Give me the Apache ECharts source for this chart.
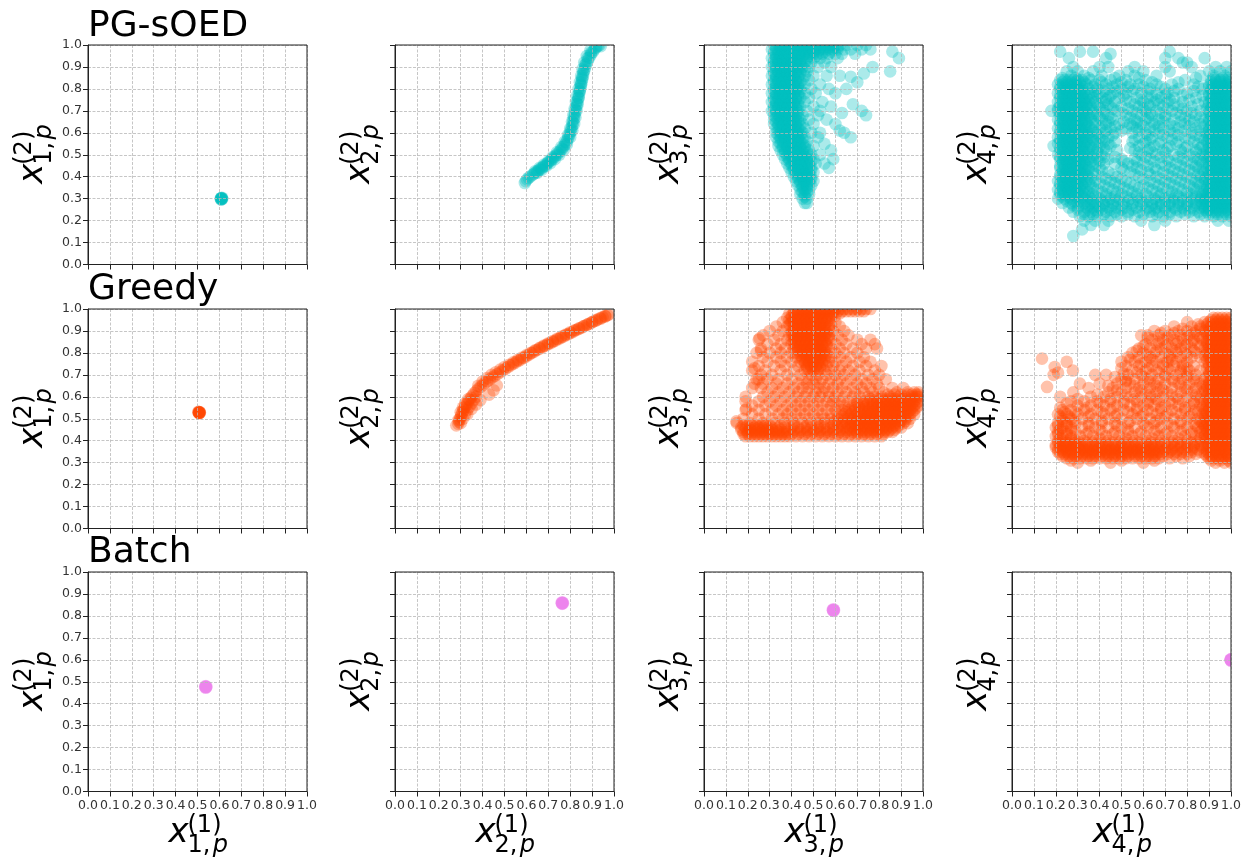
<!DOCTYPE html>
<html><head><meta charset="utf-8">
<script src="https://cdn.jsdelivr.net/npm/echarts@6/dist/echarts.min.js"></script>
<style>html,body{margin:0;padding:0;background:#fff}#c{width:1248px;height:861px}</style>
</head><body><div id="c"></div>
<script>
// ---------------- labels ----------------
const methods = ['PG-sOED', 'Greedy', 'Batch'];
const methodColors = ['rgba(0,191,191,0.33)', 'rgba(255,69,0,0.33)', 'rgba(238,130,238,0.33)'];
const stageIndex = ['1', '2', '3', '4'];
const tickLabels = ['0.0','0.1','0.2','0.3','0.4','0.5','0.6','0.7','0.8','0.9','1.0'];

// ---------------- data: [x(1), x(2)] ----------------
// PG-sOED
const pgP1 = [[0.607,0.298],[0.611,0.301],[0.609,0.303],[0.613,0.299],[0.608,0.296],[0.612,0.304],[0.610,0.300],[0.606,0.301],[0.610,0.297],[0.608,0.302]];
const pgP2 = [[0.593,0.371],[0.597,0.380],[0.603,0.388],[0.610,0.395],[0.618,0.401],[0.626,0.407],[0.634,0.413],[0.642,0.419],[0.650,0.425],[0.658,0.431],[0.666,0.437],[0.674,0.443],[0.682,0.449],[0.690,0.456],[0.698,0.463],[0.706,0.470],[0.714,0.477],[0.722,0.484],[0.730,0.492],[0.738,0.500],[0.746,0.508],[0.754,0.517],[0.762,0.526],[0.769,0.536],[0.776,0.546],[0.782,0.557],[0.788,0.569],[0.793,0.581],[0.798,0.594],[0.802,0.607],[0.806,0.620],[0.810,0.634],[0.813,0.648],[0.816,0.662],[0.819,0.676],[0.822,0.690],[0.825,0.704],[0.828,0.718],[0.831,0.732],[0.834,0.746],[0.837,0.760],[0.840,0.774],[0.843,0.788],[0.846,0.802],[0.849,0.816],[0.852,0.830],[0.855,0.844],[0.858,0.858],[0.861,0.872],[0.865,0.886],[0.869,0.900],[0.874,0.914],[0.880,0.928],[0.887,0.942],[0.894,0.955],[0.902,0.967],[0.910,0.978],[0.918,0.988],[0.926,0.996],[0.934,1.0],
  [0.650,0.418],[0.670,0.432],[0.690,0.448],[0.710,0.462],[0.730,0.480],[0.750,0.500],[0.770,0.522],[0.785,0.548],[0.800,0.580],[0.810,0.610],[0.818,0.640],[0.824,0.670],[0.829,0.700],[0.834,0.730],[0.839,0.760],[0.844,0.790],[0.849,0.820],[0.854,0.850],[0.860,0.880],[0.868,0.910],[0.880,0.940],[0.895,0.965],[0.915,0.990],[0.940,0.995],
  [0.640,0.425],[0.660,0.440],[0.680,0.455],[0.700,0.470],[0.720,0.490],[0.740,0.512],[0.760,0.535],[0.775,0.560],[0.790,0.590],[0.800,0.620],[0.808,0.650],[0.814,0.680],[0.820,0.710],[0.826,0.740],[0.832,0.770],[0.838,0.800],[0.844,0.830],[0.850,0.860],[0.856,0.890],[0.864,0.920],[0.876,0.950],[0.892,0.975]];
const pgRows3 = [
 [1.00,[0.32,0.34,0.36,0.38,0.40,0.42,0.44,0.46,0.48,0.50,0.52,0.54,0.56,0.58,0.60,0.62,0.65,0.70,0.74]],
 [0.98,[0.31,0.33,0.35,0.37,0.39,0.41,0.43,0.45,0.47,0.49,0.51,0.53,0.55,0.57,0.59,0.61,0.64,0.67,0.72,0.76]],
 [0.96,[0.32,0.34,0.36,0.38,0.40,0.42,0.44,0.46,0.48,0.50,0.52,0.54,0.57,0.60,0.63,0.69]],
 [0.94,[0.31,0.33,0.35,0.37,0.39,0.41,0.43,0.45,0.47,0.50,0.53,0.56,0.61]],
 [0.92,[0.32,0.34,0.36,0.38,0.40,0.42,0.44,0.46,0.49,0.55]],
 [0.90,[0.31,0.33,0.35,0.37,0.39,0.41,0.43,0.45,0.48,0.52,0.58]],
 [0.88,[0.32,0.34,0.36,0.38,0.40,0.42,0.44,0.47]],
 [0.86,[0.31,0.33,0.35,0.37,0.39,0.41,0.43,0.46,0.50,0.56]],
 [0.84,[0.32,0.34,0.36,0.38,0.40,0.42,0.45,0.48]],
 [0.82,[0.31,0.33,0.35,0.37,0.39,0.41,0.43,0.46,0.53]],
 [0.80,[0.32,0.34,0.36,0.38,0.40,0.42,0.44,0.49]],
 [0.78,[0.31,0.33,0.35,0.37,0.39,0.41,0.43,0.46,0.51]],
 [0.76,[0.32,0.34,0.36,0.38,0.40,0.42,0.44,0.48]],
 [0.74,[0.31,0.33,0.35,0.37,0.39,0.41,0.43,0.46,0.54]],
 [0.72,[0.32,0.34,0.36,0.38,0.40,0.42,0.44,0.50]],
 [0.70,[0.31,0.33,0.35,0.37,0.39,0.41,0.43,0.47]],
 [0.68,[0.32,0.34,0.36,0.38,0.40,0.42,0.45,0.52]],
 [0.66,[0.32,0.34,0.36,0.38,0.40,0.42,0.44,0.48]],
 [0.64,[0.32,0.34,0.36,0.38,0.40,0.42,0.45,0.50]],
 [0.62,[0.33,0.35,0.37,0.39,0.41,0.43,0.46]],
 [0.60,[0.33,0.35,0.37,0.39,0.41,0.43,0.45,0.49]],
 [0.58,[0.33,0.35,0.37,0.39,0.41,0.43,0.46,0.52]],
 [0.56,[0.34,0.36,0.38,0.40,0.42,0.44,0.47]],
 [0.54,[0.34,0.36,0.38,0.40,0.42,0.44,0.46,0.50]],
 [0.52,[0.35,0.37,0.39,0.41,0.43,0.45,0.48]],
 [0.50,[0.36,0.38,0.40,0.42,0.44,0.46,0.49,0.53]],
 [0.48,[0.37,0.39,0.41,0.43,0.45,0.47,0.50]],
 [0.46,[0.38,0.40,0.42,0.44,0.46,0.48,0.51]],
 [0.44,[0.39,0.41,0.43,0.45,0.47,0.49]],
 [0.42,[0.40,0.42,0.44,0.46,0.48,0.50]],
 [0.40,[0.41,0.43,0.45,0.47,0.49]],
 [0.38,[0.42,0.44,0.46,0.48,0.50]],
 [0.36,[0.43,0.45,0.47,0.49]],
 [0.34,[0.44,0.46,0.48]],
 [0.32,[0.44,0.46,0.48]],
 [0.30,[0.45,0.47]],
 [0.28,[0.46,0.47]]
];
const pgRows3b = [
 [0.99,[0.33,0.35,0.37,0.39,0.41,0.43,0.45,0.47,0.49,0.51,0.53,0.55,0.57,0.59,0.61]],
 [0.97,[0.32,0.34,0.36,0.38,0.40,0.42,0.44,0.46,0.48,0.50,0.52,0.55,0.58]],
 [0.95,[0.33,0.35,0.37,0.39,0.41,0.43,0.45,0.48,0.51]],
 [0.93,[0.32,0.34,0.36,0.38,0.40,0.42,0.44,0.47]],
 [0.91,[0.32,0.34,0.36,0.38,0.40,0.42,0.44]],
 [0.89,[0.33,0.35,0.37,0.39,0.41,0.43,0.46]],
 [0.87,[0.32,0.34,0.36,0.38,0.40,0.42,0.44]],
 [0.85,[0.33,0.35,0.37,0.39,0.41,0.43]],
 [0.83,[0.32,0.34,0.36,0.38,0.40,0.42,0.44]],
 [0.81,[0.33,0.35,0.37,0.39,0.41,0.43]],
 [0.79,[0.32,0.34,0.36,0.38,0.40,0.42,0.44]],
 [0.77,[0.33,0.35,0.37,0.39,0.41,0.43]],
 [0.75,[0.32,0.34,0.36,0.38,0.40,0.42]],
 [0.73,[0.33,0.35,0.37,0.39,0.41,0.43]],
 [0.71,[0.32,0.34,0.36,0.38,0.40,0.42]],
 [0.69,[0.33,0.35,0.37,0.39,0.41,0.43]],
 [0.67,[0.33,0.35,0.37,0.39,0.41,0.43]],
 [0.65,[0.33,0.35,0.37,0.39,0.41,0.43]],
 [0.63,[0.34,0.36,0.38,0.40,0.42,0.44]],
 [0.61,[0.34,0.36,0.38,0.40,0.42,0.44]],
 [0.59,[0.34,0.36,0.38,0.40,0.42,0.44]],
 [0.57,[0.35,0.37,0.39,0.41,0.43,0.45]],
 [0.55,[0.35,0.37,0.39,0.41,0.43,0.45]],
 [0.53,[0.36,0.38,0.40,0.42,0.44,0.46]],
 [0.51,[0.37,0.39,0.41,0.43,0.45,0.47]],
 [0.49,[0.38,0.40,0.42,0.44,0.46,0.48]],
 [0.47,[0.39,0.41,0.43,0.45,0.47,0.49]],
 [0.45,[0.40,0.42,0.44,0.46,0.48]],
 [0.43,[0.41,0.43,0.45,0.47,0.49]],
 [0.41,[0.42,0.44,0.46,0.48]],
 [0.39,[0.43,0.45,0.47,0.49]],
 [0.37,[0.44,0.46,0.48]],
 [0.35,[0.45,0.47]],
 [0.33,[0.45,0.47]],
 [0.31,[0.46]]
];
const pgOut3 = [[0.86,0.97],[0.89,0.94],[0.85,0.88],[0.77,0.90],[0.73,0.87],[0.67,0.855],[0.70,0.83],[0.65,0.80],[0.60,0.78],[0.68,0.73],[0.72,0.70],[0.74,0.68],[0.63,0.69],[0.58,0.72],[0.60,0.64],[0.67,0.58],[0.62,0.61],[0.64,0.60],[0.58,0.52],[0.59,0.48],[0.55,0.46],[0.57,0.44],[0.53,0.60],[0.56,0.66],[0.55,0.55],[0.57,0.80],[0.62,0.86],[0.53,0.70]];
const pgRows4 = [
 [0.97,[0.22,0.31,0.37,0.72]],
 [0.96,[0.45]],
 [0.94,[0.26,0.43,0.70,0.76,0.88]],
 [0.92,[0.78,0.80]],
 [0.90,[0.28,0.40,0.44,0.56,0.70,0.82,0.93,0.98]],
 [0.88,[0.25,0.30,0.37,0.53,0.60,0.72,0.90,0.95,1.0]],
 [0.86,[0.27,0.33,0.41,0.49,0.56,0.66,0.86,0.92,0.97]],
 [0.84,[0.22,0.24,0.26,0.28,0.30,0.32,0.36,0.40,0.45,0.52,0.61,0.79,0.91,0.93,0.95,0.97,0.99]],
 [0.82,[0.21,0.23,0.25,0.27,0.29,0.31,0.34,0.38,0.43,0.48,0.54,0.58,0.66,0.73,0.83,0.90,0.92,0.94,0.96,0.98,1.0]],
 [0.80,[0.22,0.24,0.26,0.28,0.30,0.32,0.35,0.39,0.44,0.50,0.56,0.63,0.70,0.76,0.87,0.91,0.93,0.95,0.97,0.99]],
 [0.78,[0.21,0.23,0.25,0.27,0.29,0.31,0.33,0.36,0.40,0.46,0.52,0.59,0.66,0.71,0.80,0.90,0.92,0.94,0.96,0.98,1.0]],
 [0.76,[0.22,0.24,0.26,0.28,0.30,0.32,0.34,0.37,0.41,0.44,0.49,0.57,0.62,0.68,0.74,0.84,0.91,0.93,0.95,0.97,0.99]],
 [0.74,[0.21,0.23,0.25,0.27,0.29,0.31,0.33,0.35,0.38,0.42,0.47,0.54,0.60,0.65,0.71,0.78,0.88,0.90,0.92,0.94,0.96,0.98,1.0]],
 [0.72,[0.22,0.24,0.26,0.28,0.30,0.32,0.34,0.36,0.40,0.45,0.50,0.58,0.63,0.69,0.76,0.82,0.91,0.93,0.95,0.97,0.99]],
 [0.70,[0.18,0.21,0.23,0.25,0.27,0.29,0.31,0.33,0.37,0.42,0.48,0.55,0.61,0.66,0.73,0.80,0.86,0.90,0.92,0.94,0.96,0.98,1.0]],
 [0.68,[0.22,0.24,0.26,0.28,0.30,0.32,0.35,0.39,0.44,0.52,0.59,0.64,0.70,0.77,0.84,0.91,0.93,0.95,0.97,0.99]],
 [0.66,[0.21,0.23,0.25,0.27,0.29,0.31,0.33,0.36,0.41,0.46,0.56,0.61,0.67,0.74,0.81,0.88,0.90,0.92,0.94,0.96,0.98,1.0]],
 [0.64,[0.22,0.24,0.26,0.28,0.30,0.32,0.34,0.38,0.43,0.49,0.54,0.59,0.65,0.72,0.79,0.86,0.91,0.93,0.95,0.97,0.99]],
 [0.62,[0.21,0.23,0.25,0.27,0.29,0.31,0.33,0.36,0.40,0.45,0.52,0.57,0.63,0.69,0.76,0.84,0.90,0.92,0.94,0.96,0.98,1.0]],
 [0.60,[0.22,0.24,0.26,0.28,0.30,0.32,0.35,0.38,0.42,0.47,0.55,0.61,0.67,0.74,0.82,0.89,0.91,0.93,0.95,0.97,0.99]],
 [0.58,[0.21,0.23,0.25,0.27,0.29,0.31,0.33,0.36,0.40,0.44,0.58,0.64,0.71,0.79,0.86,0.90,0.92,0.94,0.96,0.98,1.0]],
 [0.56,[0.22,0.24,0.26,0.28,0.30,0.32,0.34,0.38,0.42,0.47,0.55,0.61,0.68,0.76,0.83,0.89,0.91,0.93,0.95,0.97,0.99]],
 [0.54,[0.19,0.23,0.25,0.27,0.29,0.31,0.33,0.36,0.40,0.45,0.58,0.65,0.72,0.80,0.87,0.90,0.92,0.94,0.96,0.98,1.0]],
 [0.52,[0.22,0.24,0.26,0.28,0.30,0.32,0.35,0.39,0.43,0.48,0.56,0.62,0.69,0.77,0.84,0.89,0.91,0.93,0.95,0.97,0.99]],
 [0.50,[0.21,0.23,0.25,0.27,0.29,0.31,0.33,0.37,0.41,0.59,0.66,0.74,0.81,0.87,0.90,0.92,0.94,0.96,0.98,1.0]],
 [0.48,[0.22,0.24,0.26,0.28,0.30,0.32,0.35,0.39,0.44,0.50,0.56,0.63,0.71,0.78,0.85,0.89,0.91,0.93,0.95,0.97,0.99]],
 [0.46,[0.23,0.25,0.27,0.29,0.31,0.33,0.37,0.42,0.47,0.53,0.60,0.68,0.75,0.82,0.87,0.90,0.92,0.94,0.96,0.98,1.0]],
 [0.44,[0.22,0.24,0.26,0.28,0.30,0.32,0.35,0.40,0.50,0.57,0.65,0.72,0.79,0.85,0.89,0.91,0.93,0.95,0.97,0.99]],
 [0.42,[0.23,0.25,0.27,0.29,0.31,0.33,0.37,0.44,0.54,0.62,0.69,0.76,0.83,0.88,0.90,0.92,0.94,0.96,0.98,1.0]],
 [0.40,[0.22,0.24,0.26,0.28,0.30,0.32,0.35,0.41,0.48,0.58,0.66,0.73,0.80,0.86,0.89,0.91,0.93,0.95,0.97,0.99]],
 [0.38,[0.21,0.23,0.25,0.27,0.29,0.31,0.34,0.38,0.45,0.52,0.63,0.70,0.77,0.84,0.88,0.90,0.92,0.94,0.96,0.98,1.0]],
 [0.36,[0.22,0.24,0.26,0.28,0.30,0.32,0.36,0.42,0.49,0.56,0.60,0.67,0.74,0.81,0.86,0.89,0.91,0.93,0.95,0.97,0.99]],
 [0.34,[0.21,0.23,0.25,0.27,0.29,0.31,0.34,0.39,0.46,0.53,0.64,0.71,0.78,0.84,0.88,0.90,0.92,0.94,0.96,0.98,1.0]],
 [0.32,[0.22,0.24,0.26,0.28,0.30,0.33,0.37,0.43,0.50,0.57,0.61,0.68,0.75,0.82,0.87,0.89,0.91,0.93,0.95,0.97,0.99]],
 [0.30,[0.21,0.24,0.27,0.30,0.33,0.36,0.40,0.45,0.49,0.54,0.59,0.65,0.70,0.74,0.78,0.82,0.86,0.88,0.90,0.92,0.94,0.96,0.98,1.0]],
 [0.28,[0.23,0.27,0.30,0.33,0.36,0.39,0.42,0.46,0.51,0.55,0.60,0.64,0.68,0.72,0.76,0.80,0.84,0.87,0.89,0.91,0.93,0.95,0.97,0.99]],
 [0.26,[0.26,0.30,0.34,0.37,0.40,0.44,0.48,0.52,0.57,0.62,0.66,0.70,0.74,0.78,0.82,0.86,0.88,0.90,0.92,0.94,0.96,0.98,1.0]],
 [0.24,[0.28,0.33,0.36,0.39,0.43,0.47,0.53,0.58,0.63,0.67,0.72,0.77,0.81,0.85,0.89,0.91,0.93,0.95,0.97,0.99]],
 [0.22,[0.31,0.35,0.39,0.45,0.50,0.56,0.64,0.69,0.75,0.83,0.88,0.92,0.96,1.0]],
 [0.20,[0.33,0.38,0.44,0.59,0.70,0.94,0.99]],
 [0.18,[0.36,0.42,0.65]],
 [0.16,[0.32]],
 [0.13,[0.28]]
];
const pgRows4b = [
 [0.85,[0.23,0.29,0.35,0.47,0.58,0.84,0.92,0.96,0.99]],
 [0.83,[0.23,0.25,0.27,0.29,0.31,0.33,0.41,0.50,0.64,0.76,0.91,0.93,0.95,0.97,0.99]],
 [0.81,[0.22,0.24,0.26,0.28,0.30,0.32,0.37,0.46,0.53,0.60,0.68,0.85,0.90,0.92,0.94,0.96,0.98,1.0]],
 [0.79,[0.23,0.25,0.27,0.29,0.31,0.33,0.38,0.42,0.48,0.55,0.62,0.74,0.83,0.91,0.93,0.95,0.97,0.99]],
 [0.77,[0.22,0.24,0.26,0.28,0.30,0.32,0.35,0.39,0.45,0.51,0.64,0.70,0.78,0.87,0.90,0.92,0.94,0.96,0.98,1.0]],
 [0.75,[0.23,0.25,0.27,0.29,0.31,0.33,0.36,0.43,0.52,0.59,0.66,0.72,0.81,0.91,0.93,0.95,0.97,0.99]],
 [0.73,[0.22,0.24,0.26,0.28,0.30,0.32,0.34,0.39,0.44,0.56,0.62,0.67,0.74,0.85,0.90,0.92,0.94,0.96,0.98,1.0]],
 [0.71,[0.21,0.23,0.25,0.27,0.29,0.31,0.33,0.35,0.40,0.46,0.53,0.60,0.71,0.78,0.89,0.91,0.93,0.95,0.97,0.99]],
 [0.69,[0.22,0.24,0.26,0.28,0.30,0.32,0.34,0.37,0.42,0.50,0.57,0.63,0.68,0.75,0.82,0.90,0.92,0.94,0.96,0.98,1.0]],
 [0.67,[0.23,0.25,0.27,0.29,0.31,0.33,0.36,0.40,0.45,0.54,0.62,0.70,0.79,0.86,0.91,0.93,0.95,0.97,0.99]],
 [0.65,[0.22,0.24,0.26,0.28,0.30,0.32,0.34,0.38,0.44,0.51,0.57,0.64,0.69,0.77,0.83,0.90,0.92,0.94,0.96,0.98,1.0]],
 [0.63,[0.23,0.25,0.27,0.29,0.31,0.33,0.35,0.41,0.47,0.55,0.60,0.67,0.74,0.81,0.88,0.91,0.93,0.95,0.97,0.99]],
 [0.61,[0.22,0.24,0.26,0.28,0.30,0.32,0.34,0.37,0.43,0.50,0.58,0.65,0.72,0.79,0.86,0.90,0.92,0.94,0.96,0.98,1.0]],
 [0.59,[0.23,0.25,0.27,0.29,0.31,0.33,0.35,0.39,0.46,0.62,0.69,0.76,0.84,0.89,0.91,0.93,0.95,0.97,0.99]],
 [0.57,[0.22,0.24,0.26,0.28,0.30,0.32,0.34,0.37,0.41,0.56,0.63,0.73,0.81,0.88,0.90,0.92,0.94,0.96,0.98,1.0]],
 [0.55,[0.21,0.23,0.25,0.27,0.29,0.31,0.33,0.35,0.39,0.44,0.60,0.67,0.75,0.85,0.91,0.93,0.95,0.97,0.99]],
 [0.53,[0.22,0.24,0.26,0.28,0.30,0.32,0.34,0.37,0.42,0.54,0.63,0.71,0.79,0.86,0.90,0.92,0.94,0.96,0.98,1.0]],
 [0.51,[0.23,0.25,0.27,0.29,0.31,0.33,0.35,0.39,0.58,0.64,0.70,0.78,0.84,0.89,0.91,0.93,0.95,0.97,0.99]],
 [0.49,[0.22,0.24,0.26,0.28,0.30,0.32,0.34,0.37,0.42,0.47,0.61,0.68,0.76,0.83,0.88,0.90,0.92,0.94,0.96,0.98,1.0]],
 [0.47,[0.23,0.25,0.27,0.29,0.31,0.33,0.36,0.40,0.51,0.57,0.65,0.72,0.80,0.86,0.91,0.93,0.95,0.97,0.99]],
 [0.45,[0.22,0.24,0.26,0.28,0.30,0.32,0.34,0.38,0.55,0.62,0.70,0.77,0.84,0.90,0.92,0.94,0.96,0.98,1.0]],
 [0.43,[0.23,0.25,0.27,0.29,0.31,0.33,0.35,0.41,0.51,0.59,0.66,0.74,0.81,0.87,0.91,0.93,0.95,0.97,0.99]],
 [0.41,[0.22,0.24,0.26,0.28,0.30,0.32,0.34,0.38,0.46,0.56,0.63,0.71,0.78,0.85,0.90,0.92,0.94,0.96,0.98,1.0]],
 [0.39,[0.23,0.25,0.27,0.29,0.31,0.33,0.36,0.43,0.50,0.60,0.68,0.75,0.82,0.88,0.91,0.93,0.95,0.97,0.99]],
 [0.37,[0.22,0.24,0.26,0.28,0.30,0.32,0.35,0.40,0.47,0.54,0.65,0.72,0.79,0.85,0.90,0.92,0.94,0.96,0.98,1.0]],
 [0.35,[0.23,0.25,0.27,0.29,0.31,0.33,0.37,0.44,0.51,0.58,0.62,0.69,0.76,0.83,0.89,0.91,0.93,0.95,0.97,0.99]],
 [0.33,[0.22,0.24,0.26,0.28,0.30,0.32,0.35,0.41,0.48,0.55,0.66,0.73,0.80,0.86,0.90,0.92,0.94,0.96,0.98,1.0]],
 [0.31,[0.23,0.26,0.29,0.32,0.35,0.38,0.43,0.47,0.52,0.57,0.62,0.67,0.72,0.76,0.80,0.84,0.87,0.89,0.91,0.93,0.95,0.97,0.99]],
 [0.29,[0.25,0.28,0.31,0.34,0.37,0.41,0.44,0.48,0.53,0.58,0.62,0.66,0.70,0.74,0.78,0.82,0.86,0.88,0.90,0.92,0.94,0.96,0.98,1.0]],
 [0.27,[0.28,0.32,0.35,0.38,0.42,0.46,0.50,0.55,0.59,0.64,0.68,0.72,0.76,0.80,0.84,0.87,0.89,0.91,0.93,0.95,0.97,0.99]],
 [0.25,[0.30,0.35,0.38,0.41,0.45,0.50,0.55,0.61,0.65,0.70,0.75,0.79,0.83,0.88,0.90,0.92,0.94,0.96,0.98,1.0]],
 [0.23,[0.33,0.37,0.42,0.48,0.53,0.60,0.66,0.72,0.79,0.86,0.90,0.94,0.98]]
];
// Greedy
const grP1 = [[0.505,0.528],[0.509,0.531],[0.507,0.525],[0.511,0.529],[0.504,0.532],[0.508,0.527],[0.506,0.530],[0.510,0.526],[0.507,0.529],[0.509,0.527]];
const grP2 = [[0.289,0.477],[0.292,0.487],[0.296,0.498],[0.300,0.509],[0.304,0.520],[0.309,0.531],[0.314,0.542],[0.320,0.553],[0.326,0.564],[0.333,0.575],[0.340,0.586],[0.347,0.597],[0.355,0.607],[0.363,0.617],[0.372,0.627],[0.381,0.637],[0.391,0.646],[0.401,0.655],[0.411,0.664],[0.422,0.672],[0.433,0.680],[0.444,0.688],[0.456,0.696],[0.468,0.704],[0.480,0.712],[0.492,0.720],[0.504,0.728],[0.516,0.736],[0.528,0.743],[0.540,0.750],[0.552,0.757],[0.564,0.764],[0.576,0.771],[0.588,0.778],[0.600,0.785],[0.612,0.792],[0.624,0.799],[0.636,0.806],[0.648,0.813],[0.660,0.820],[0.672,0.826],[0.684,0.832],[0.696,0.838],[0.708,0.844],[0.720,0.850],[0.732,0.856],[0.744,0.862],[0.756,0.868],[0.768,0.874],[0.780,0.880],[0.792,0.886],[0.804,0.892],[0.816,0.898],[0.828,0.904],[0.840,0.910],[0.852,0.916],[0.864,0.922],[0.876,0.928],[0.888,0.934],[0.900,0.940],[0.912,0.946],[0.924,0.952],[0.936,0.958],[0.948,0.963],[0.960,0.968],[0.970,0.972],[0.976,0.975],
  [0.380,0.650],[0.400,0.670],[0.420,0.685],[0.440,0.700],[0.460,0.712],[0.480,0.724],[0.500,0.736],[0.520,0.746],[0.540,0.757],[0.560,0.768],[0.580,0.779],[0.600,0.790],[0.620,0.801],[0.640,0.812],[0.660,0.823],[0.680,0.834],[0.700,0.844],[0.720,0.854],[0.740,0.864],[0.760,0.874],[0.780,0.884],[0.800,0.894],[0.820,0.903],[0.840,0.912],[0.860,0.921],[0.880,0.930],[0.900,0.939],[0.920,0.948],[0.940,0.957],[0.960,0.966],
  [0.280,0.470],[0.290,0.495],[0.300,0.480],[0.310,0.500],[0.320,0.520],[0.330,0.540],[0.340,0.555],[0.350,0.570],[0.360,0.585],[0.370,0.600],[0.330,0.520],[0.350,0.545],[0.370,0.565],[0.390,0.585],[0.430,0.610],[0.450,0.630],[0.465,0.652],[0.300,0.530],[0.310,0.550],[0.320,0.570],[0.335,0.590]];
const grRows3 = [
 [1.00,[0.42,0.44,0.46,0.48,0.50,0.52,0.54,0.56,0.58,0.60,0.62,0.64,0.66,0.68,0.70,0.72,0.74,0.76]],
 [0.98,[0.39,0.41,0.43,0.45,0.47,0.49,0.51,0.53,0.55,0.57,0.59,0.62]],
 [0.96,[0.38,0.40,0.42,0.44,0.46,0.48,0.50,0.52,0.54,0.56,0.58]],
 [0.94,[0.36,0.40,0.42,0.44,0.46,0.48,0.50,0.52,0.54,0.56,0.60]],
 [0.92,[0.33,0.38,0.41,0.43,0.45,0.47,0.49,0.51,0.53,0.55,0.57,0.62]],
 [0.90,[0.30,0.36,0.40,0.42,0.44,0.46,0.48,0.50,0.52,0.54,0.56,0.59,0.64]],
 [0.88,[0.27,0.34,0.39,0.41,0.43,0.45,0.47,0.49,0.51,0.53,0.55,0.57,0.61,0.66]],
 [0.86,[0.25,0.32,0.38,0.40,0.42,0.44,0.46,0.48,0.50,0.52,0.54,0.56,0.58,0.63,0.70,0.76]],
 [0.84,[0.29,0.35,0.40,0.42,0.44,0.46,0.48,0.50,0.52,0.54,0.56,0.60,0.65,0.72,0.78]],
 [0.82,[0.26,0.33,0.37,0.41,0.43,0.45,0.47,0.49,0.51,0.53,0.55,0.58,0.62,0.68,0.74,0.79]],
 [0.80,[0.24,0.30,0.35,0.40,0.42,0.44,0.46,0.48,0.50,0.52,0.54,0.56,0.60,0.64,0.70]],
 [0.78,[0.27,0.33,0.38,0.42,0.45,0.47,0.49,0.51,0.53,0.55,0.58,0.62,0.67,0.73]],
 [0.76,[0.22,0.29,0.35,0.40,0.44,0.46,0.48,0.50,0.52,0.54,0.57,0.60,0.65,0.71,0.76]],
 [0.74,[0.25,0.32,0.37,0.43,0.47,0.49,0.51,0.53,0.56,0.59,0.63,0.68,0.74,0.81]],
 [0.72,[0.22,0.28,0.35,0.41,0.46,0.48,0.50,0.52,0.55,0.58,0.62,0.66,0.71,0.78]],
 [0.70,[0.26,0.31,0.38,0.44,0.49,0.52,0.56,0.60,0.64,0.69,0.75,0.80]],
 [0.68,[0.24,0.29,0.34,0.40,0.45,0.48,0.51,0.54,0.58,0.62,0.67,0.72,0.77,0.83]],
 [0.66,[0.23,0.27,0.33,0.38,0.43,0.47,0.50,0.53,0.57,0.61,0.65,0.70,0.74,0.79]],
 [0.64,[0.26,0.31,0.36,0.41,0.45,0.48,0.52,0.55,0.59,0.63,0.68,0.72,0.76,0.80,0.86,0.91]],
 [0.62,[0.29,0.34,0.39,0.43,0.47,0.51,0.54,0.57,0.61,0.65,0.69,0.73,0.77,0.82,0.88,0.93,0.96,0.98]],
 [0.60,[0.19,0.27,0.32,0.37,0.42,0.46,0.50,0.53,0.57,0.60,0.64,0.68,0.71,0.75,0.78,0.81,0.85,0.89,0.92,0.95,0.97,0.98]],
 [0.58,[0.19,0.25,0.30,0.35,0.40,0.44,0.48,0.52,0.56,0.59,0.62,0.66,0.70,0.73,0.76,0.79,0.82,0.84,0.86,0.88,0.90,0.92,0.94,0.96,0.98]],
 [0.56,[0.22,0.28,0.33,0.38,0.42,0.46,0.50,0.54,0.58,0.61,0.64,0.68,0.71,0.74,0.77,0.80,0.82,0.84,0.86,0.88,0.90,0.92,0.94,0.96,0.98]],
 [0.54,[0.19,0.25,0.31,0.36,0.40,0.44,0.48,0.52,0.56,0.60,0.63,0.66,0.69,0.72,0.75,0.78,0.80,0.82,0.84,0.86,0.88,0.90,0.92,0.94,0.96]],
 [0.52,[0.22,0.28,0.34,0.38,0.42,0.46,0.50,0.54,0.58,0.61,0.64,0.67,0.70,0.72,0.74,0.76,0.78,0.80,0.82,0.84,0.86,0.88,0.90,0.92,0.94,0.96]],
 [0.50,[0.18,0.25,0.31,0.36,0.40,0.44,0.48,0.52,0.55,0.58,0.61,0.64,0.66,0.68,0.70,0.72,0.74,0.76,0.78,0.80,0.82,0.84,0.86,0.88,0.90,0.92,0.94]],
 [0.48,[0.15,0.21,0.27,0.32,0.37,0.41,0.45,0.49,0.52,0.55,0.58,0.61,0.63,0.65,0.67,0.69,0.71,0.73,0.75,0.77,0.79,0.81,0.83,0.85,0.87,0.89,0.91,0.93]],
 [0.46,[0.17,0.19,0.21,0.23,0.25,0.27,0.29,0.31,0.34,0.37,0.40,0.43,0.46,0.49,0.52,0.55,0.58,0.61,0.64,0.66,0.68,0.70,0.72,0.74,0.76,0.78,0.80,0.82,0.84,0.86,0.88,0.90]],
 [0.44,[0.18,0.20,0.22,0.24,0.26,0.28,0.30,0.32,0.34,0.36,0.38,0.41,0.44,0.47,0.50,0.53,0.56,0.59,0.62,0.65,0.68,0.70,0.72,0.74,0.76,0.78,0.80,0.82,0.84,0.86]],
 [0.42,[0.19,0.21,0.23,0.25,0.27,0.29,0.31,0.33,0.35,0.37,0.39,0.42,0.45,0.48,0.51,0.54,0.57,0.60,0.63,0.66,0.69,0.72,0.75,0.78,0.81]]
];
const grRows3b = [
 [0.99,[0.41,0.43,0.45,0.47,0.49,0.51,0.53,0.55,0.57,0.59,0.61,0.63,0.65,0.67,0.69,0.71,0.73]],
 [0.97,[0.40,0.42,0.44,0.46,0.48,0.50,0.52,0.54,0.56,0.58,0.60]],
 [0.95,[0.39,0.41,0.43,0.45,0.47,0.49,0.51,0.53,0.55,0.57]],
 [0.93,[0.39,0.41,0.43,0.45,0.47,0.49,0.51,0.53,0.55,0.58]],
 [0.91,[0.41,0.43,0.45,0.47,0.49,0.51,0.53,0.55,0.57]],
 [0.89,[0.40,0.42,0.44,0.46,0.48,0.50,0.52,0.54,0.56]],
 [0.87,[0.41,0.43,0.45,0.47,0.49,0.51,0.53,0.55,0.57]],
 [0.85,[0.41,0.43,0.45,0.47,0.49,0.51,0.53,0.55]],
 [0.83,[0.42,0.44,0.46,0.48,0.50,0.52,0.54,0.56]],
 [0.81,[0.43,0.45,0.47,0.49,0.51,0.53,0.55]],
 [0.79,[0.44,0.46,0.48,0.50,0.52,0.54,0.56]],
 [0.77,[0.45,0.47,0.49,0.51,0.53,0.55]],
 [0.75,[0.46,0.48,0.50,0.52,0.54]],
 [0.73,[0.47,0.49,0.51,0.53]],
 [0.61,[0.84,0.87,0.90,0.93,0.95,0.97,0.98]],
 [0.59,[0.76,0.79,0.81,0.83,0.85,0.87,0.89,0.91,0.93,0.95,0.97]],
 [0.57,[0.70,0.73,0.75,0.77,0.79,0.81,0.83,0.85,0.87,0.89,0.91,0.93,0.95,0.97]],
 [0.55,[0.66,0.69,0.71,0.73,0.75,0.77,0.79,0.81,0.83,0.85,0.87,0.89,0.91,0.93,0.95,0.97]],
 [0.53,[0.65,0.68,0.71,0.73,0.75,0.77,0.79,0.81,0.83,0.85,0.87,0.89,0.91,0.93,0.95]],
 [0.51,[0.63,0.66,0.69,0.71,0.73,0.75,0.77,0.79,0.81,0.83,0.85,0.87,0.89,0.91,0.93]],
 [0.49,[0.60,0.64,0.68,0.70,0.72,0.74,0.76,0.78,0.80,0.82,0.84,0.86,0.88,0.90,0.92]],
 [0.47,[0.18,0.20,0.22,0.24,0.26,0.28,0.30,0.35,0.41,0.47,0.53,0.59,0.63,0.67,0.69,0.71,0.73,0.75,0.77,0.79,0.81,0.83,0.85,0.87,0.89]],
 [0.45,[0.17,0.19,0.21,0.23,0.25,0.27,0.29,0.31,0.33,0.35,0.38,0.41,0.44,0.47,0.50,0.53,0.56,0.59,0.62,0.65,0.67,0.69,0.71,0.73,0.75,0.77,0.79,0.81,0.83,0.85,0.87]],
 [0.43,[0.18,0.20,0.22,0.24,0.26,0.28,0.30,0.32,0.34,0.36,0.38,0.40,0.43,0.46,0.49,0.52,0.55,0.58,0.61,0.64,0.67,0.70,0.73,0.76,0.79,0.82]]
];
const grOut3 = [[0.148,0.488],[0.193,0.545],[0.254,0.866],[0.26,0.81],[0.23,0.73],[0.22,0.64],[0.25,0.68]];
const grRows4 = [
 [0.96,[0.92,0.94,0.96,0.98,1.0]],
 [0.94,[0.80,0.88,0.90,0.92,0.94,0.96,0.98,1.0]],
 [0.92,[0.74,0.82,0.86,0.89,0.91,0.93,0.95,0.97,0.99]],
 [0.90,[0.65,0.70,0.76,0.80,0.84,0.88,0.90,0.92,0.94,0.96,0.98,1.0]],
 [0.88,[0.59,0.62,0.67,0.72,0.77,0.81,0.85,0.89,0.91,0.93,0.95,0.97,0.99]],
 [0.86,[0.64,0.69,0.74,0.78,0.83,0.87,0.90,0.92,0.94,0.96,0.98,1.0]],
 [0.84,[0.61,0.66,0.71,0.75,0.80,0.85,0.89,0.91,0.93,0.95,0.97,0.99]],
 [0.82,[0.58,0.63,0.68,0.73,0.77,0.82,0.88,0.90,0.92,0.94,0.96,0.98,1.0]],
 [0.80,[0.55,0.60,0.65,0.70,0.75,0.79,0.84,0.89,0.91,0.93,0.95,0.97,0.99]],
 [0.78,[0.53,0.58,0.63,0.68,0.72,0.77,0.82,0.86,0.90,0.92,0.94,0.96,0.98,1.0]],
 [0.76,[0.50,0.56,0.61,0.66,0.71,0.75,0.80,0.88,0.91,0.93,0.95,0.97,0.99]],
 [0.74,[0.52,0.58,0.64,0.69,0.74,0.78,0.83,0.90,0.92,0.94,0.96,0.98,1.0]],
 [0.72,[0.55,0.61,0.66,0.72,0.77,0.81,0.86,0.91,0.93,0.95,0.97,0.99]],
 [0.70,[0.43,0.53,0.59,0.64,0.70,0.75,0.80,0.84,0.90,0.92,0.94,0.96,0.98,1.0]],
 [0.68,[0.50,0.56,0.62,0.67,0.73,0.78,0.83,0.88,0.91,0.93,0.95,0.97,0.99]],
 [0.66,[0.48,0.54,0.60,0.65,0.70,0.76,0.81,0.86,0.90,0.92,0.94,0.96,0.98,1.0]],
 [0.64,[0.46,0.52,0.58,0.63,0.68,0.73,0.79,0.84,0.89,0.91,0.93,0.95,0.97,0.99]],
 [0.62,[0.28,0.44,0.50,0.56,0.61,0.66,0.71,0.77,0.82,0.87,0.90,0.92,0.94,0.96,0.98,1.0]],
 [0.60,[0.22,0.36,0.42,0.48,0.54,0.59,0.64,0.69,0.75,0.80,0.85,0.89,0.91,0.93,0.95,0.97,0.99]],
 [0.58,[0.33,0.39,0.45,0.51,0.57,0.62,0.67,0.72,0.78,0.83,0.88,0.90,0.92,0.94,0.96,0.98,1.0]],
 [0.56,[0.30,0.36,0.42,0.48,0.54,0.60,0.65,0.70,0.76,0.81,0.86,0.89,0.91,0.93,0.95,0.97,0.99]],
 [0.54,[0.23,0.27,0.33,0.39,0.45,0.51,0.57,0.62,0.68,0.73,0.79,0.84,0.88,0.90,0.92,0.94,0.96,0.98,1.0]],
 [0.52,[0.21,0.25,0.30,0.36,0.42,0.48,0.55,0.60,0.66,0.71,0.77,0.82,0.87,0.89,0.91,0.93,0.95,0.97,0.99]],
 [0.50,[0.23,0.27,0.32,0.38,0.44,0.50,0.57,0.63,0.68,0.74,0.80,0.85,0.88,0.90,0.92,0.94,0.96,0.98,1.0]],
 [0.48,[0.21,0.25,0.29,0.35,0.41,0.47,0.53,0.60,0.65,0.71,0.77,0.83,0.87,0.89,0.91,0.93,0.95,0.97,0.99]],
 [0.46,[0.20,0.23,0.27,0.32,0.38,0.44,0.50,0.56,0.62,0.68,0.74,0.80,0.85,0.88,0.90,0.92,0.94,0.96,0.98,1.0]],
 [0.44,[0.21,0.25,0.29,0.35,0.41,0.47,0.53,0.59,0.65,0.71,0.77,0.82,0.86,0.89,0.91,0.93,0.95,0.97,0.99]],
 [0.42,[0.20,0.23,0.27,0.31,0.37,0.43,0.49,0.55,0.61,0.67,0.73,0.79,0.84,0.88,0.90,0.92,0.94,0.96,0.98,1.0]],
 [0.40,[0.21,0.25,0.29,0.33,0.38,0.44,0.50,0.56,0.62,0.68,0.74,0.80,0.85,0.89,0.91,0.93,0.95,0.97,0.99]],
 [0.38,[0.20,0.22,0.24,0.26,0.28,0.30,0.32,0.35,0.38,0.41,0.44,0.47,0.50,0.53,0.56,0.59,0.62,0.65,0.68,0.71,0.74,0.77,0.80,0.83,0.86,0.88,0.90,0.92,0.94,0.96,0.98,1.0]],
 [0.36,[0.21,0.23,0.25,0.27,0.29,0.31,0.33,0.35,0.37,0.39,0.41,0.43,0.45,0.47,0.49,0.51,0.53,0.55,0.57,0.59,0.61,0.63,0.65,0.67,0.70,0.73,0.76,0.79,0.82,0.85,0.89,0.91,0.93,0.95,0.97,0.99]],
 [0.34,[0.22,0.24,0.26,0.28,0.30,0.32,0.34,0.36,0.38,0.40,0.42,0.44,0.46,0.48,0.50,0.52,0.54,0.56,0.58,0.60,0.62,0.64,0.66,0.68,0.71,0.74,0.77,0.80,0.84,0.88,0.90,0.92,0.94,0.96,0.98,1.0]],
 [0.32,[0.25,0.28,0.31,0.34,0.37,0.40,0.43,0.46,0.49,0.52,0.55,0.58,0.61,0.64,0.67,0.72,0.78,0.90,0.92,0.94,0.96,0.98,1.0]],
 [0.30,[0.30,0.45,0.60,0.93,0.97,1.0]]
];
const grRows4b = [
 [0.95,[0.91,0.93,0.95,0.97,0.99]],
 [0.93,[0.85,0.89,0.91,0.93,0.95,0.97,0.99]],
 [0.91,[0.78,0.86,0.90,0.92,0.94,0.96,0.98,1.0]],
 [0.89,[0.68,0.74,0.83,0.89,0.91,0.93,0.95,0.97,0.99]],
 [0.87,[0.62,0.71,0.80,0.86,0.90,0.92,0.94,0.96,0.98,1.0]],
 [0.85,[0.67,0.76,0.82,0.89,0.91,0.93,0.95,0.97,0.99]],
 [0.83,[0.60,0.70,0.79,0.86,0.90,0.92,0.94,0.96,0.98,1.0]],
 [0.81,[0.57,0.66,0.75,0.83,0.89,0.91,0.93,0.95,0.97,0.99]],
 [0.79,[0.62,0.72,0.80,0.88,0.90,0.92,0.94,0.96,0.98,1.0]],
 [0.77,[0.54,0.64,0.73,0.89,0.91,0.93,0.95,0.97,0.99]],
 [0.75,[0.59,0.69,0.78,0.90,0.92,0.94,0.96,0.98,1.0]],
 [0.73,[0.50,0.62,0.71,0.80,0.89,0.91,0.93,0.95,0.97,0.99]],
 [0.71,[0.57,0.67,0.77,0.90,0.92,0.94,0.96,0.98,1.0]],
 [0.69,[0.47,0.60,0.70,0.80,0.89,0.91,0.93,0.95,0.97,0.99]],
 [0.67,[0.52,0.63,0.74,0.84,0.90,0.92,0.94,0.96,0.98,1.0]],
 [0.65,[0.44,0.56,0.66,0.77,0.87,0.89,0.91,0.93,0.95,0.97,0.99]],
 [0.63,[0.48,0.59,0.69,0.80,0.88,0.90,0.92,0.94,0.96,0.98,1.0]],
 [0.61,[0.39,0.52,0.63,0.73,0.84,0.89,0.91,0.93,0.95,0.97,0.99]],
 [0.59,[0.30,0.45,0.56,0.66,0.76,0.86,0.90,0.92,0.94,0.96,0.98,1.0]],
 [0.57,[0.25,0.40,0.51,0.62,0.73,0.83,0.89,0.91,0.93,0.95,0.97,0.99]],
 [0.55,[0.22,0.34,0.46,0.57,0.68,0.79,0.87,0.90,0.92,0.94,0.96,0.98,1.0]],
 [0.53,[0.24,0.29,0.41,0.53,0.64,0.75,0.85,0.89,0.91,0.93,0.95,0.97,0.99]],
 [0.51,[0.22,0.26,0.35,0.47,0.59,0.70,0.81,0.88,0.90,0.92,0.94,0.96,0.98,1.0]],
 [0.49,[0.23,0.28,0.41,0.54,0.66,0.77,0.86,0.89,0.91,0.93,0.95,0.97,0.99]],
 [0.47,[0.21,0.25,0.35,0.48,0.61,0.73,0.84,0.88,0.90,0.92,0.94,0.96,0.98,1.0]],
 [0.45,[0.22,0.27,0.40,0.53,0.66,0.78,0.87,0.89,0.91,0.93,0.95,0.97,0.99]],
 [0.43,[0.21,0.25,0.34,0.46,0.58,0.70,0.82,0.88,0.90,0.92,0.94,0.96,0.98,1.0]],
 [0.41,[0.22,0.27,0.40,0.52,0.64,0.76,0.86,0.89,0.91,0.93,0.95,0.97,0.99]],
 [0.39,[0.21,0.23,0.25,0.27,0.29,0.31,0.34,0.37,0.40,0.43,0.46,0.49,0.52,0.55,0.58,0.61,0.64,0.67,0.70,0.73,0.76,0.79,0.82,0.85,0.89,0.91,0.93,0.95,0.97,0.99]],
 [0.37,[0.20,0.22,0.24,0.26,0.28,0.30,0.32,0.34,0.36,0.38,0.40,0.42,0.44,0.46,0.48,0.50,0.52,0.54,0.56,0.58,0.60,0.62,0.64,0.66,0.68,0.71,0.74,0.77,0.80,0.83,0.87,0.90,0.92,0.94,0.96,0.98,1.0]],
 [0.35,[0.21,0.23,0.25,0.27,0.29,0.31,0.33,0.35,0.37,0.39,0.41,0.43,0.45,0.47,0.49,0.51,0.53,0.55,0.57,0.59,0.61,0.63,0.65,0.67,0.69,0.72,0.75,0.78,0.82,0.86,0.89,0.91,0.93,0.95,0.97,0.99]],
 [0.33,[0.23,0.26,0.29,0.32,0.35,0.38,0.41,0.44,0.47,0.50,0.53,0.56,0.59,0.62,0.65,0.69,0.75,0.81,0.89,0.91,0.93,0.95,0.97,0.99]],
 [0.31,[0.27,0.36,0.50,0.65,0.91,0.95,0.99]]
];
const grOut4 = [[0.137,0.774],[0.195,0.736],[0.16,0.645],[0.21,0.71],[0.25,0.76],[0.278,0.72],[0.19,0.70],[0.31,0.66],[0.27,0.58],[0.35,0.64],[0.38,0.70],[0.40,0.66],[0.51,0.705],[0.52,0.675]];
// Batch
const baP1 = [[0.537,0.476],[0.540,0.478],[0.535,0.479],[0.539,0.474],[0.536,0.477],[0.541,0.476],[0.538,0.480],[0.537,0.473],[0.539,0.477],[0.536,0.475]];
const baP2 = [[0.763,0.858],[0.766,0.860],[0.761,0.861],[0.765,0.856],[0.762,0.859],[0.767,0.858],[0.764,0.862],[0.763,0.855],[0.765,0.859],[0.762,0.857]];
const baP3 = [[0.590,0.826],[0.593,0.828],[0.588,0.829],[0.592,0.824],[0.589,0.827],[0.594,0.826],[0.591,0.830],[0.590,0.823],[0.592,0.827],[0.589,0.825]];
const baP4 = [[1.0,0.598],[1.0,0.601],[0.998,0.600],[1.0,0.603],[0.999,0.597],[1.0,0.600],[0.998,0.602],[1.0,0.599],[0.999,0.601],[1.0,0.596]];

// ---------------- assemble ----------------
function rowsToPoints(rows) {
  const out = [];
  rows.forEach(function (r) { r[1].forEach(function (x) { out.push([x, r[0]]); }); });
  return out;
}
const panelData = [
  [pgP1, pgP2, rowsToPoints(pgRows3).concat(rowsToPoints(pgRows3b), pgOut3), rowsToPoints(pgRows4).concat(rowsToPoints(pgRows4b))],
  [grP1, grP2, rowsToPoints(grRows3).concat(rowsToPoints(grRows3b), grOut3), rowsToPoints(grRows4).concat(rowsToPoints(grRows4b), grOut4)],
  [baP1, baP2, baP3, baP4]
];

const LEFT = [88, 395, 704, 1012];
const TOP = [45, 309, 572];
const PW = 219, PH = 219.5;
const R = 6.3;
const FONT = '"DejaVu Sans", sans-serif';

const grids = [], xAxes = [], yAxes = [], series = [], graphics = [];

function mathLabel(sub, sup, x, y, rot) {
  return {
    type: 'group', x: x, y: y, rotation: rot, silent: true,
    children: [
      { type: 'text', x: -29, y: -10.1, style: { text: 'x', fontSize: 34, fontStyle: 'italic', fontFamily: FONT, fill: '#000', align: 'left', verticalAlign: 'middle' } },
      { type: 'text', x: -10, y: -18.1, style: { text: '(' + sup + ')', fontSize: 24, fontFamily: FONT, fill: '#000', align: 'left', verticalAlign: 'middle' } },
      { type: 'text', x: -10, y: 1.9, style: { text: '{n|' + sub + ',\u200A}{i|p}', fontSize: 24, fontFamily: FONT, fill: '#000', align: 'left', verticalAlign: 'middle',
          rich: { n: { fontSize: 24, fontFamily: FONT, fill: '#000' }, i: { fontSize: 24, fontFamily: FONT, fontStyle: 'italic', fill: '#000' } } } }
    ]
  };
}

for (let r = 0; r < 3; r++) {
  for (let c = 0; c < 4; c++) {
    const idx = r * 4 + c;
    grids.push({ left: LEFT[c], top: TOP[r], width: PW, height: PH, show: true, borderColor: '#222', borderWidth: 1, backgroundColor: 'transparent', z: 6 });
    const common = {
      gridIndex: idx, type: 'value', min: 0, max: 1, interval: 0.1, z: 5,
      axisLine: { show: true, onZero: false, lineStyle: { color: '#222', width: 1 } },
      axisTick: { show: true, inside: false, length: 5, lineStyle: { color: '#222', width: 1 } },
      splitLine: { show: true, lineStyle: { color: '#b8b8b8', width: 0.8, type: [3, 1.5] } },
      minorTick: { show: false }
    };
    xAxes.push(Object.assign({}, common, {
      axisLabel: { show: r === 2, margin: 8, fontSize: 12.5, color: '#333', fontFamily: FONT, hideOverlap: false,
        formatter: function (v) { return tickLabels[Math.round(v * 10)]; } }
    }));
    yAxes.push(Object.assign({}, common, {
      axisLabel: { show: c === 0, margin: 6, fontSize: 12.5, color: '#333', fontFamily: FONT, hideOverlap: false,
        formatter: function (v) { return tickLabels[Math.round(v * 10)]; } }
    }));
    series.push({
      type: 'custom', xAxisIndex: idx, yAxisIndex: idx, clip: true, z: 2,
      dimensions: ['x1', 'x2'], encode: { x: 0, y: 1 },
      data: panelData[r][c],
      renderItem: (function (color) {
        return function (params, api) {
          const p = api.coord([api.value(0), api.value(1)]);
          return { type: 'circle', shape: { cx: p[0], cy: p[1], r: R }, style: { fill: color, stroke: null } };
        };
      })(methodColors[r])
    });
    const yOff = c === 0 ? 45 : 25;
    graphics.push(mathLabel(stageIndex[c], '2', LEFT[c] - yOff, TOP[r] + PH / 2, Math.PI / 2));
    if (r === 2) {
      graphics.push(mathLabel(stageIndex[c], '1', LEFT[c] + PW / 2, TOP[r] + PH + 52, 0));
    }
  }
}
const titleY = [26.6, 289.6, 552.6];
methods.forEach(function (m, r) {
  graphics.push({ type: 'text', x: 88, y: titleY[r], silent: true,
    style: { text: m, fontSize: 36, fontFamily: FONT, fill: '#000', align: 'left', verticalAlign: 'middle' } });
});

const chart = echarts.init(document.getElementById('c'), null, { renderer: 'canvas', width: 1248, height: 861 });
chart.setOption({
  animation: false,
  backgroundColor: '#fff',
  grid: grids, xAxis: xAxes, yAxis: yAxes, series: series,
  graphic: graphics
});
</script></body></html>
